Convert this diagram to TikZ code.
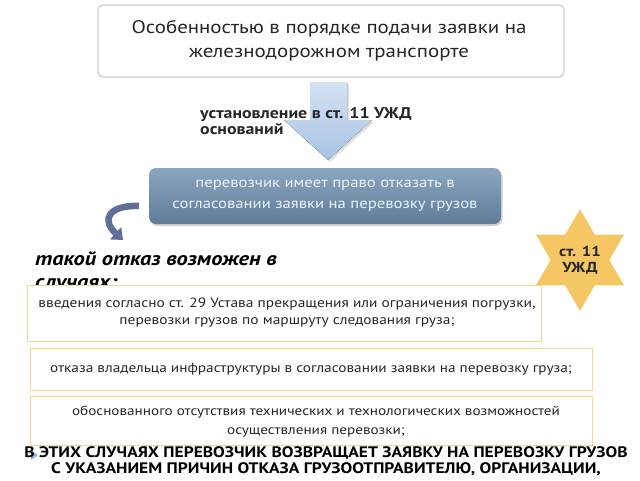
\documentclass[tikz,border=0pt]{standalone}
\usepackage{fontspec}
\setmainfont[FakeStretch=1.15]{PT Sans}
\usetikzlibrary{shapes.geometric,arrows.meta,shadows,calc}
\definecolor{topborder}{HTML}{C9CED3}
\definecolor{midtop}{HTML}{8CA6C0}
\definecolor{midbot}{HTML}{5E7C98}
\definecolor{midtext}{HTML}{EDF2F7}
\definecolor{arrtop}{HTML}{D3E2F3}
\definecolor{arrbot}{HTML}{A8C3E3}
\definecolor{gold}{HTML}{F2D68A}
\definecolor{stargold}{HTML}{F4C764}
\definecolor{curv}{HTML}{5F6F98}
\definecolor{txt}{HTML}{262626}
\definecolor{bullet}{HTML}{8DB3E2}
\tikzset{
  whitebox/.style={draw=topborder, line width=1.2pt, fill=white, rounded corners=5pt},
  midbox/.style={rounded corners=7pt, top color=midtop, bottom color=midbot, draw=none,
     drop shadow={shadow xshift=1.5pt, shadow yshift=-2pt, opacity=0.35}},
  goldbox/.style={draw=gold, line width=1pt, fill=white},
  itemtext/.style={text=txt, align=center, font=\fontsize{13.3}{17}\selectfont},
}
\begin{document}
\begin{tikzpicture}[x=1pt,y=-1pt]
\useasboundingbox (0,0) rectangle (640,480);
\fill[white] (0,0) rectangle (640,480);

% top box
\node[whitebox, minimum width=466pt, minimum height=72pt] (top) at (331,41) {};
\node[text=txt, align=center, font=\fontsize{18.2}{24}\selectfont] (toptext) at (329,41)
  {Особенностью в порядке подачи заявки на\\железнодорожном транспорте};

% big down arrow
\fill[black, opacity=0.12]
  (312,84) -- (349,84) -- (349,122) -- (374,122) -- (330,162) -- (286,122) -- (312,122) -- cycle;
\fill[top color=arrtop, bottom color=arrbot]
  (310,82) -- (347,82) -- (347,120) -- (372,120) -- (328,160) -- (284,120) -- (310,120) -- cycle;
\node[text=txt, align=left, font=\bfseries\fontsize{15.5}{16.5}\selectfont] (lbl) at (306,121)
  {установление в ст. 11 УЖД\\оснований};

% middle box
\node[midbox, minimum width=352pt, minimum height=56pt, text=midtext, align=center,
  font=\fontsize{14.5}{21}\selectfont] (mid) at (325,196)
  {перевозчик имеет право отказать в\\согласовании заявки на перевозку грузов};

% curved arrow
\coordinate (c1) at (139,206);
\coordinate (c2) at (123,240);
\draw[curv, line width=6.5pt, -{Triangle[length=10pt,width=16pt]}]
  (c1) .. controls (108,205) and (101,220) .. (c2);

% italic heading
\node[text=black, align=left, font=\bfseries\itshape\fontsize{19.5}{23}\selectfont] (head) at (156,272)
  {такой отказ возможен в\\случаях:};

% star
\node[star, star points=6, star point ratio=1.732, minimum size=74pt, inner sep=0pt,
  fill=stargold, text=txt, align=center, font=\bfseries\fontsize{14.5}{16}\selectfont] (star) at (580,260)
  {ст. 11\\УЖД};

% item boxes
\node[goldbox, minimum width=514pt, minimum height=56pt] (a) at (284,313) {};
\node[itemtext, font=\fontsize{13.4}{17}\selectfont] (atext) at (287,313)
  {введения согласно ст. 29 Устава прекращения или ограничения погрузки,\\перевозки грузов по маршруту следования груза;};
\node[goldbox, minimum width=562pt, minimum height=42pt, itemtext] (b) at (311,369)
  {отказа владельца инфраструктуры в согласовании заявки на перевозку груза;};
\node[goldbox, minimum width=562pt, minimum height=49pt] (c) at (311,421) {};
\node[itemtext, font=\fontsize{13.2}{19}\selectfont] (ctext) at (316,422)
  {обоснованного отсутствия технических и технологических возможностей\\осуществления перевозки;};

% bottom text
\fill[bullet] (31,450) -- (38,455) -- (31,460) -- cycle;
\node[text=black, align=center, font=\bfseries\fontsize{15.2}{16}\selectfont] (bottom) at (326,461)
  {В ЭТИХ СЛУЧАЯХ ПЕРЕВОЗЧИК ВОЗВРАЩАЕТ ЗАЯВКУ НА ПЕРЕВОЗКУ ГРУЗОВ\\С УКАЗАНИЕМ ПРИЧИН ОТКАЗА ГРУЗООТПРАВИТЕЛЮ, ОРГАНИЗАЦИИ,};
\end{tikzpicture}
\end{document}
